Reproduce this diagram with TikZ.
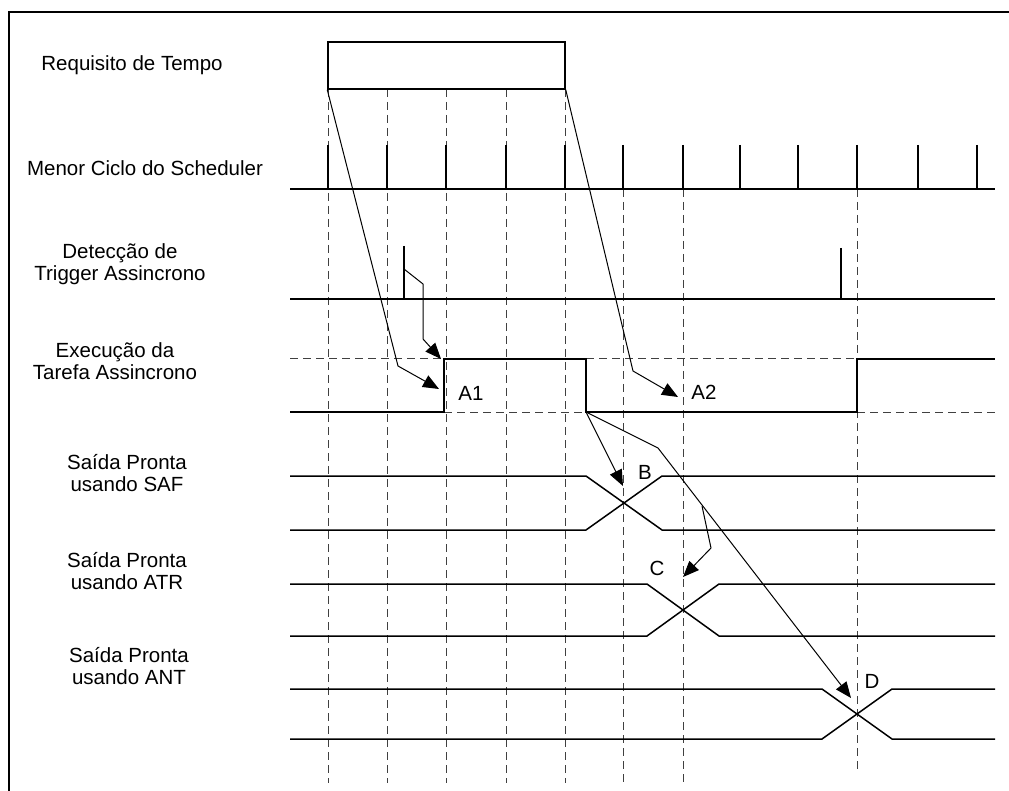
\documentclass[tikz,border=0pt]{standalone}
\usepackage{fontspec}
\setmainfont{Liberation Sans}
\usetikzlibrary{arrows.meta}
\begin{document}
\begin{tikzpicture}[x=1pt,y=-1pt,
  sig/.style={line width=1.5pt, black},
  gridline/.style={line width=1pt, dash pattern=on 8pt off 5pt, black!75},
  arr/.style={line width=1pt, -{Triangle[length=16pt,width=13pt]}},
  lbl/.style={font=\fontsize{20.5}{22}\selectfont, align=center, inner sep=0pt},
  tag/.style={font=\fontsize{20.5}{22}\selectfont, inner sep=0pt}]
\useasboundingbox (0,0) rectangle (1009,791);
% frame
\draw[line width=1.3pt] (9,791) -- (9,12) -- (1009,12);
% row labels
\node[lbl] (lreq) at (132,65) {Requisito de Tempo};
\node[lbl] (lsch) at (145,168) {Menor Ciclo do Scheduler};
\node[lbl] (ltrg) at (120,264) {Detecção de\\Trigger Assincrono};
\node[lbl] (lexe) at (115,361) {Execução da\\Tarefa Assincrono};
\node[lbl] (lsaf) at (127,473) {Saída Pronta\\usando SAF};
\node[lbl] (latr) at (127,571) {Saída Pronta\\usando ATR};
\node[lbl] (lant) at (129,666) {Saída Pronta\\usando ANT};
% vertical dashed grid
\foreach \x in {328,387,446,506,565} \draw[gridline] (\x,89) -- (\x,783);
\foreach \x in {623,683} \draw[gridline] (\x,189) -- (\x,783);
\draw[gridline] (857,189) -- (857,772);
% requisito box
\node[draw, line width=1.5pt, minimum width=237pt, minimum height=47pt, inner sep=0pt] (reqbox) at (446.5,65.5) {};
% scheduler
\draw[sig] (290,189) -- (995,189);
\foreach \x in {328,387,446,506,565,623,683,740,798,857,918,977} \draw[sig] (\x,145) -- (\x,189);
% trigger
\draw[sig] (290,299) -- (995,299);
\draw[sig] (404,246) -- (404,299);
\draw[sig] (841,248) -- (841,299);
\coordinate (trg) at (404,269);
% execution
\draw[gridline] (290,359) -- (444,359);
\draw[gridline] (444,412) -- (586,412);
\draw[gridline] (586,359) -- (857,359);
\draw[gridline] (857,412) -- (995,412);
\draw[sig] (290,412) -- (444,412) -- (444,359) -- (586,359) -- (586,412) -- (857,412) -- (857,359) -- (995,359);
\coordinate (ef) at (586,412);
% SAF
\draw[sig] (290,476) -- (586,476) -- (662,530) -- (995,530);
\draw[sig] (290,530) -- (586,530) -- (662,476) -- (995,476);
% ATR
\draw[sig] (290,584) -- (647,584) -- (719,636) -- (995,636);
\draw[sig] (290,636) -- (647,636) -- (719,584) -- (995,584);
% ANT
\draw[sig] (290,689) -- (822,689) -- (892,739) -- (995,739);
\draw[sig] (290,739) -- (822,739) -- (892,689) -- (995,689);
% arrow targets
\coordinate (ta1a) at (441,359);
\coordinate (ta1b) at (439,389);
\coordinate (ta2) at (678,397);
\coordinate (tb) at (623,486);
\coordinate (tc) at (683,577);
\coordinate (td) at (851,698);
\coordinate (dk) at (658,448);
\coordinate (cs) at (702,506);
% arrows
\draw[arr] (trg) -- (423,284) -- (423,339) -- (ta1a);
\draw[arr] (reqbox.south west) -- (398,366) -- (ta1b);
\draw[arr] (reqbox.south east) -- (633,371) -- (ta2);
\draw[arr] (ef) -- (tb);
\draw[arr] (ef) -- (dk) -- (td);
\draw[arr] (cs) -- (711,548) -- (tc);
% tags
\node[tag] (a1) at (471,393) {A1};
\node[tag] (a2) at (704,392) {A2};
\node[tag] (b) at (645,472) {B};
\node[tag] (c) at (657,568) {C};
\node[tag] (d) at (872,681) {D};
\end{tikzpicture}
\end{document}
